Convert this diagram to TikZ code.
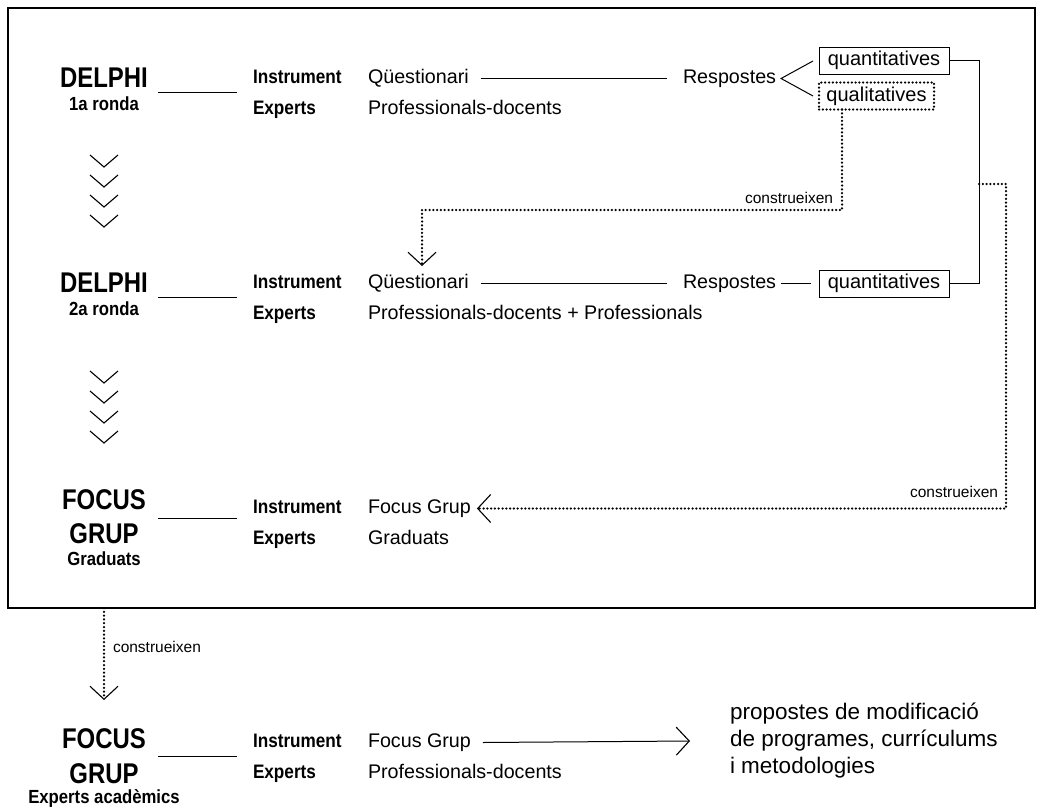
\documentclass[tikz,border=0pt]{standalone}
\usepackage{fontspec}
\setmainfont{Liberation Sans}
\newfontface\regf{Liberation Sans}
\newfontface\bldc[FakeStretch=0.88]{Liberation Sans Bold}
\newfontface\bldt[FakeStretch=0.84]{Liberation Sans Bold}
\usetikzlibrary{arrows.meta}
\begin{document}
\begin{tikzpicture}[x=1pt,y=-1pt,
  every node/.style={inner sep=0pt,outer sep=0pt},
  ttl/.style={font=\bldt\fontsize{28.5}{30}\selectfont,anchor=base},
  sub/.style={font=\bldc\fontsize{19}{21}\selectfont,anchor=base},
  lab/.style={font=\bldc\fontsize{19.5}{21}\selectfont,anchor=base west},
  val/.style={font=\regf\fontsize{19.7}{22}\selectfont,anchor=base west,text height=13pt,text depth=4pt},
  small/.style={font=\regf\fontsize{15.5}{17}\selectfont},
  qbox/.style={draw,line width=1pt,font=\regf\fontsize{20}{22}\selectfont,anchor=west,minimum height=27pt,minimum width=130pt,text height=14pt,text depth=4pt},
  dotl/.style={line width=2.5pt,dash pattern=on 0pt off 3.8pt,line cap=round},
  dbox/.style={qbox,dotl,minimum width=115pt},
  conn/.style={line width=1pt},
  chev/.style={line width=1.1pt},
  vtip/.style={-{Straight Barb[length=13pt,width=28pt,line width=1.1pt]}},
]
\useasboundingbox (0,0) rectangle (1043,808);
\draw[line width=1.2pt] (8,8) rectangle (1035,608);

% ---------- row 1
\node[ttl] (d1) at (104,87) {DELPHI};
\node[sub] (d1s) at (104,110) {1a ronda};
\coordinate (l1a) at (158,92); \coordinate (l1b) at (237,92);
\draw[conn] (l1a) -- (l1b);
\node[lab] (i1) at (253,83) {Instrument};
\node[lab] (e1) at (253,114) {Experts};
\node[val] (q1) at (368,83) {Qüestionari};
\node[val] (p1) at (368,114) {Professionals-docents};
\node[val] (r1) at (683,83) {Respostes};
\node[qbox] (qt1) at (819,61) {quantitatives};
\node[dbox] (ql1) at (819,96) {qualitatives};
\draw[conn] ([xshift=12pt]q1.east) -- ([xshift=-16pt]r1.west);
\coordinate (v1) at ([xshift=5pt]r1.east);
\draw[conn] ([xshift=-6pt]qt1.west) -- (v1) -- ([xshift=-6pt]ql1.west);

\foreach \t in {167,187,207,227}
  \draw[chev] (90,\t-12) -- (104,\t) -- (118,\t-12);

% dotted 1
\coordinate (k1) at (842,210);
\coordinate (t2) at (422,266);
\draw[dotl,vtip] (ql1.south -| k1) -- (k1) -| (t2);
\node[small,anchor=base east] (c1) at (833,203) {construeixen};

% ---------- row 2
\node[ttl] (d2) at (104,292) {DELPHI};
\node[sub] (d2s) at (104,315) {2a ronda};
\coordinate (l2a) at (158,297); \coordinate (l2b) at (237,297);
\draw[conn] (l2a) -- (l2b);
\node[lab] (i2) at (253,288) {Instrument};
\node[lab] (e2) at (253,319) {Experts};
\node[val] (q2) at (368,288) {Qüestionari};
\node[val] (p2) at (368,319) {Professionals-docents + Professionals};
\node[val] (r2) at (683,288) {Respostes};
\node[qbox] (qt2) at (819,283.5) {quantitatives};
\draw[conn] ([xshift=12pt]q2.east) -- ([xshift=-16pt]r2.west);
\draw[conn] ([xshift=5pt]r2.east) -- ([xshift=-8pt]qt2.west);

% solid connector right
\coordinate (cx) at (979,0);
\draw[conn] (qt1.east) -| (cx |- qt2.east) -- (qt2.east);

\foreach \t in {383,403,423,443}
  \draw[chev] (90,\t-12) -- (104,\t) -- (118,\t-12);

% ---------- row 3
\node[ttl] (f3t) at (104,509) {FOCUS};
\node[ttl] (f3g) at (104,543) {GRUP};
\node[sub] (f3s) at (104,565) {Graduats};
\coordinate (l3a) at (158,518); \coordinate (l3b) at (237,518);
\draw[conn] (l3a) -- (l3b);
\node[lab] (i3) at (253,513) {Instrument};
\node[lab] (e3) at (253,544) {Experts};
\node[val] (f3) at (368,513) {Focus Grup};
\node[val] (g3) at (368,544) {Graduats};

% dotted 2
\coordinate (s2) at (979,184);
\coordinate (k2) at (1006,184);
\draw[dotl,vtip] (s2) -- (k2) |- ([xshift=6pt]f3.east);
\node[small,anchor=base east] (c2) at (998,497) {construeixen};

% dotted 3
\coordinate (fb) at (104,608);
\coordinate (t4) at (104,700);
\draw[dotl,vtip] (fb) -- (t4);
\node[small,anchor=base west] (c3) at (113,652) {construeixen};

% ---------- row 4
\node[ttl] (f4t) at (104,748) {FOCUS};
\node[ttl] (f4g) at (104,783) {GRUP};
\node[sub] (f4s) at (104,803) {Experts acadèmics};
\coordinate (l4a) at (158,756); \coordinate (l4b) at (237,756);
\draw[conn] (l4a) -- (l4b);
\node[lab] (i4) at (253,747) {Instrument};
\node[lab] (e4) at (253,778) {Experts};
\node[val] (f4) at (368,747) {Focus Grup};
\node[val] (p4) at (368,778) {Professionals-docents};
\node[anchor=west,align=left,font=\regf\fontsize{22.5}{27}\selectfont] (res) at (730,741) {propostes de modificació\\de programes, currículums\\i metodologies};
\draw[conn,vtip] ([xshift=12pt]f4.east) -- ([xshift=-40pt]res.west);
\end{tikzpicture}
\end{document}
